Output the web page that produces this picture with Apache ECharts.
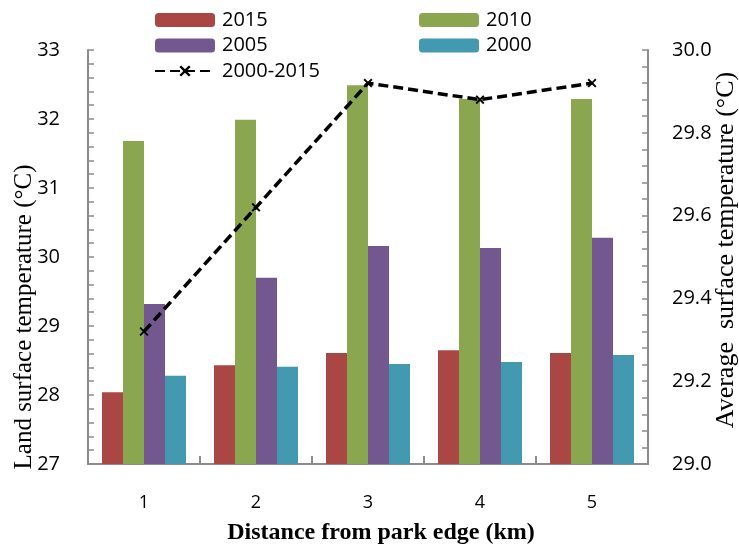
<!DOCTYPE html>
<html>
<head>
<meta charset="utf-8">
<script src="https://cdn.jsdelivr.net/npm/echarts@6/dist/echarts.min.js"></script>
<style>html,body{margin:0;padding:0;background:#fff;}#c{width:739px;height:552px;}</style>
</head>
<body>
<div id="c"></div>
<script>
var categories = ['1', '2', '3', '4', '5'];
var v2015 = [28.04, 28.43, 28.61, 28.65, 28.61];
var v2010 = [31.68, 31.99, 32.49, 32.29, 32.29];
var v2005 = [29.32, 29.70, 30.16, 30.13, 30.28];
var v2000 = [28.28, 28.41, 28.45, 28.48, 28.58];
var avg = [29.32, 29.62, 29.92, 29.88, 29.92];
var leftTicks = [27, 33, 1];
var rightTicks = [29.0, 30.0, 0.2];

var chart = echarts.init(document.getElementById('c'), null, {renderer: 'canvas'});
var axisGray = '#8c8c8c';
var tickFont = 'Open Sans';
var xMarker = 'path://M0,1.5 L1.5,0 L5,3.5 L8.5,0 L10,1.5 L6.5,5 L10,8.5 L8.5,10 L5,6.5 L1.5,10 L0,8.5 L3.5,5 Z';

chart.setOption({
  animation: false,
  backgroundColor: '#fff',
  grid: {left: 88, right: 91, top: 50, bottom: 88, containLabel: false},
  legend: [
    {
      data: ['2015', '2005', '2000-2015'], orient: 'vertical', left: 154, top: 10,
      itemWidth: 60, itemHeight: 14, itemGap: 5.5, padding: 0,
      textStyle: {fontFamily: tickFont, fontSize: 20, color: '#000', lineHeight: 20, padding: [0, 0, 0, 2]}
    },
    {
      data: ['2010', '2000'], orient: 'vertical', left: 419, top: 10,
      itemWidth: 60, itemHeight: 14, itemGap: 5.5, padding: 0,
      textStyle: {fontFamily: tickFont, fontSize: 20, color: '#000', lineHeight: 20, padding: [0, 0, 0, 2]}
    }
  ],
  xAxis: {
    type: 'category', data: categories,
    axisLine: {lineStyle: {color: axisGray, width: 2}},
    axisTick: {show: true, inside: true, length: 8, alignWithLabel: false, lineStyle: {color: axisGray, width: 2}},
    axisLabel: {fontFamily: tickFont, fontSize: 18, color: '#000', margin: 30}
  },
  yAxis: [
    {
      type: 'value', min: leftTicks[0], max: leftTicks[1], interval: leftTicks[2],
      axisLine: {show: true, lineStyle: {color: axisGray, width: 2}},
      axisTick: {show: true, inside: true, length: 6, lineStyle: {color: axisGray, width: 1.5}},
      minorTick: {show: true, splitNumber: 5, length: 6, lineStyle: {color: axisGray, width: 1.5}},
      splitLine: {show: false},
      axisLabel: {fontFamily: tickFont, fontSize: 20, color: '#000', margin: 28}
    },
    {
      type: 'value', position: 'right', min: rightTicks[0], max: rightTicks[1], interval: rightTicks[2],
      axisLine: {show: true, lineStyle: {color: axisGray, width: 2}},
      axisTick: {show: true, inside: true, length: 6, lineStyle: {color: axisGray, width: 1.5}},
      minorTick: {show: true, splitNumber: 5, length: 6, lineStyle: {color: axisGray, width: 1.5}},
      splitLine: {show: false},
      axisLabel: {fontFamily: tickFont, fontSize: 20, color: '#000', margin: 24,
        formatter: function (v) { return v.toFixed(1); }}
    }
  ],
  series: [
    {name: '2015', type: 'bar', data: v2015, barGap: '0%', barCategoryGap: '25%', itemStyle: {color: '#AA4744'}},
    {name: '2010', type: 'bar', data: v2010, barGap: '0%', barCategoryGap: '25%', itemStyle: {color: '#8AA64E'}},
    {name: '2005', type: 'bar', data: v2005, barGap: '0%', barCategoryGap: '25%', itemStyle: {color: '#72588F'}},
    {name: '2000', type: 'bar', data: v2000, barGap: '0%', barCategoryGap: '25%', itemStyle: {color: '#4299B0'}},
    {
      name: '2000-2015', type: 'line', yAxisIndex: 1, data: avg, z: 10,
      symbol: xMarker, symbolSize: 9, showAllSymbol: true,
      lineStyle: {color: '#000', width: 3.5, type: [10, 5]},
      itemStyle: {color: '#000', borderColor: '#000', borderWidth: 0}
    }
  ],
  graphic: [
    {type: 'text', x: 24, y: 317, rotation: Math.PI / 2,
      style: {text: 'Land surface temperature (°C)', x: 0, y: 0, fill: '#000',
        font: '25px "Liberation Serif"', textAlign: 'center', textVerticalAlign: 'middle'}},
    {type: 'text', x: 726, y: 250, rotation: Math.PI / 2,
      style: {text: 'Average  surface temperature (°C)', x: 0, y: 0, fill: '#000',
        font: '26px "Liberation Serif"', textAlign: 'center', textVerticalAlign: 'middle'}},
    {type: 'text', x: 381, y: 533,
      style: {text: 'Distance from park edge (km)', x: 0, y: 0, fill: '#000',
        font: 'bold 24px "Liberation Serif"', textAlign: 'center', textVerticalAlign: 'middle'}}
  ]
});
</script>
</body>
</html>
